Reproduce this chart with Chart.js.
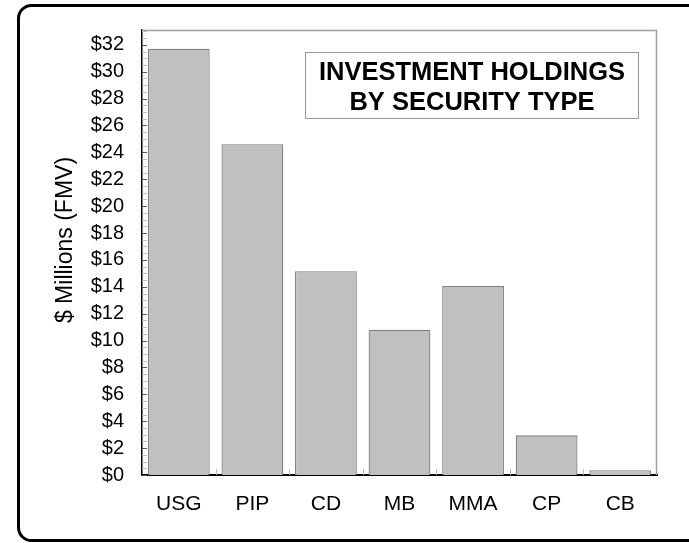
<!DOCTYPE html>
<html>
<head>
<meta charset="utf-8">
<script src="https://cdn.jsdelivr.net/npm/chart.js@4"></script>
<style>
  html, body { margin: 0; padding: 0; background: #fff; }
  #wrap { width: 689px; height: 543px; position: relative; }
</style>
</head>
<body>
<div id="wrap"><canvas id="c" width="689" height="543"></canvas></div>
<script>
const categories = ["USG", "PIP", "CD", "MB", "MMA", "CP", "CB"];
const holdings = [31.7, 24.6, 15.15, 10.8, 14.05, 2.95, 0.35];
const yTickValues = [0, 2, 4, 6, 8, 10, 12, 14, 16, 18, 20, 22, 24, 26, 28, 30, 32];
const chartTitleLines = ["INVESTMENT HOLDINGS", "BY SECURITY TYPE"];
const yAxisTitle = "$ Millions (FMV)";

const FONT = "'Liberation Sans', Arial, Helvetica, sans-serif";

const decor = {
  id: 'decor',
  beforeDraw(chart) {
    const ctx = chart.ctx;
    ctx.save();
    ctx.strokeStyle = '#000';
    ctx.lineWidth = 3;
    const x0 = 18.5, y0 = 5.5, x1 = 700, y1 = 540.5, r = 13;
    ctx.beginPath();
    ctx.moveTo(x1, y0);
    ctx.lineTo(x0 + r, y0);
    ctx.arcTo(x0, y0, x0, y0 + r, r);
    ctx.lineTo(x0, y1 - r);
    ctx.arcTo(x0, y1, x0 + r, y1, r);
    ctx.lineTo(x1, y1);
    ctx.stroke();
    ctx.restore();
  },
  afterDatasetsDraw(chart) {
    const ctx = chart.ctx;
    const a = chart.chartArea;
    const ys = chart.scales.y, xs = chart.scales.x;
    ctx.save();
    ctx.strokeStyle = '#a0a0a0';
    ctx.lineWidth = 1.5;
    ctx.beginPath();
    ctx.moveTo(a.left, a.top + 0.5);
    ctx.lineTo(a.right - 0.5, a.top + 0.5);
    ctx.lineTo(a.right - 0.5, a.bottom);
    ctx.stroke();
    for (let v = 0; v <= ys.max + 1e-9; v += 0.5) {
      const y = Math.round(ys.getPixelForValue(v)) + 0.5;
      const major = yTickValues.includes(v);
      ctx.strokeStyle = major ? '#555' : '#bbb';
      ctx.lineWidth = 1;
      ctx.beginPath();
      ctx.moveTo(a.left, y);
      ctx.lineTo(a.left + 5, y);
      ctx.stroke();
    }
    ctx.strokeStyle = '#bbb';
    for (let i = 1; i < categories.length; i++) {
      const x = Math.round((xs.getPixelForValue(i - 1) + xs.getPixelForValue(i)) / 2) + 0.5;
      ctx.beginPath();
      ctx.moveTo(x, a.bottom);
      ctx.lineTo(x, a.bottom - 6);
      ctx.stroke();
    }
    const bx = 305.5, by = 52.5, bw = 333, bh = 66;
    ctx.fillStyle = '#fff';
    ctx.fillRect(bx, by, bw, bh);
    ctx.strokeStyle = '#999';
    ctx.lineWidth = 1;
    ctx.strokeRect(bx, by, bw, bh);
    ctx.fillStyle = '#000';
    ctx.font = "bold 25.5px " + FONT;
    ctx.textAlign = 'center';
    ctx.textBaseline = 'middle';
    ctx.fillText(chartTitleLines[0], bx + bw / 2, 73);
    ctx.fillText(chartTitleLines[1], bx + bw / 2, 103);
    ctx.save();
    ctx.translate(66, 240);
    ctx.rotate(-Math.PI / 2);
    ctx.font = "23px " + FONT;
    ctx.fillText(yAxisTitle, 0, 0);
    ctx.restore();
    ctx.restore();
  }
};

new Chart(document.getElementById('c'), {
  type: 'bar',
  data: {
    labels: categories,
    datasets: [{
      data: holdings,
      backgroundColor: '#c0c0c0',
      borderColor: '#808080',
      borderWidth: 1.3,
      borderSkipped: 'bottom',
      categoryPercentage: 1,
      barPercentage: 0.84
    }]
  },
  options: {
    responsive: false,
    animation: false,
    devicePixelRatio: 1,
    layout: { padding: { left: 0, right: 32, top: 28, bottom: 0 } },
    plugins: { legend: { display: false }, tooltip: { enabled: false }, title: { display: false } },
    scales: {
      x: {
        grid: { display: false, drawTicks: false },
        border: { display: true, color: '#000', width: 2 },
        ticks: { color: '#000', font: { family: FONT, size: 21 }, padding: 17, maxRotation: 0 },
        afterFit(s) { s.height = 68; }
      },
      y: {
        min: 0,
        max: 33.1,
        grid: { display: false, drawTicks: false },
        border: { display: true, color: '#000', width: 1.5 },
        afterBuildTicks(s) { s.ticks = yTickValues.map(v => ({ value: v })); },
        ticks: {
          color: '#000',
          font: { family: FONT, size: 20 },
          padding: 18,
          autoSkip: false,
          callback: v => '$' + v
        },
        afterFit(s) { s.width = 142; }
      }
    }
  },
  plugins: [decor]
});
</script>
</body>
</html>
